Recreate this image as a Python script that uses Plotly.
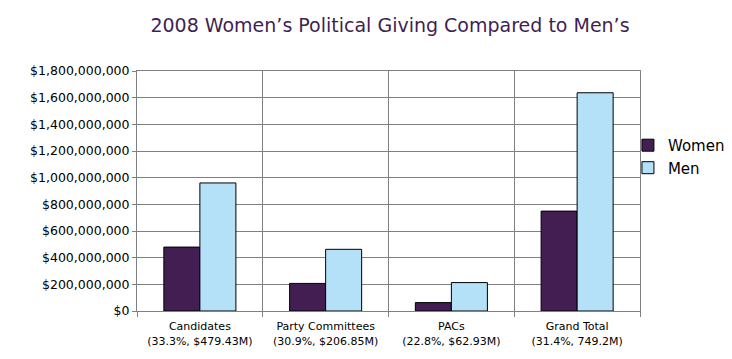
import plotly.graph_objects as go

categories = ["Candidates<br>(33.3%, $479.43M)", "Party Committees<br>(30.9%, $206.85M)",
              "PACs<br>(22.8%, $62.93M)", "Grand Total<br>(31.4%, 749.2M)"]
women = [479.43e6, 206.85e6, 62.93e6, 749.2e6]
men = [960.4e6, 462.6e6, 213.1e6, 1636.8e6]
y_ticks = [0, 200e6, 400e6, 600e6, 800e6, 1000e6, 1200e6, 1400e6, 1600e6, 1800e6]
y_tick_text = ["$0", "$200,000,000", "$400,000,000", "$600,000,000", "$800,000,000",
               "$1,000,000,000", "$1,200,000,000", "$1,400,000,000", "$1,600,000,000",
               "$1,800,000,000"]

font = "DejaVu Sans, Verdana, sans-serif"
fig = go.Figure()
fig.add_trace(go.Bar(name="Women", x=categories, y=women, marker=dict(color="#421E52", line=dict(color="black", width=1))))
fig.add_trace(go.Bar(name="Men", x=categories, y=men, marker=dict(color="#B4E0F8", line=dict(color="black", width=1))))

W, H = 724, 351
fig.update_layout(
    width=W, height=H,
    margin=dict(l=129, r=92, t=63, b=48, autoexpand=False),
    paper_bgcolor="white", plot_bgcolor="white",
    barmode="group", bargap=0.427, bargroupgap=0,
    title=dict(text="2008 Women’s Political Giving Compared to Men’s", x=(390 - 8) / W, xanchor="center",
               y=1 - (25 - 8) / H, yanchor="middle", font=dict(family=font, size=19, color="#3F1F55")),
    font=dict(family=font, size=11, color="black"),
    legend=dict(x=0.976, xanchor="left", y=0.644, yanchor="middle", font=dict(size=15, family=font),
                itemwidth=30, tracegroupgap=2, bgcolor="rgba(0,0,0,0)"),
    showlegend=True,
)
fig.update_xaxes(tickson="boundaries", showgrid=True, gridcolor="#808080", gridwidth=1, automargin=False,
                 showline=True, linecolor="#808080", mirror=True, ticks="outside", ticklen=5,
                 tickcolor="#808080", tickfont=dict(size=11, family=font), ticklabelstandoff=5)
fig.update_yaxes(range=[0, 1800e6], tickvals=y_ticks, ticktext=y_tick_text, showgrid=True, automargin=False,
                 gridcolor="#808080", gridwidth=1, showline=True, linecolor="#808080", mirror=True,
                 ticks="outside", ticklen=4, tickcolor="#808080", zeroline=False,
                 tickfont=dict(size=12.5, family=font))

fig.write_html("out.html")
